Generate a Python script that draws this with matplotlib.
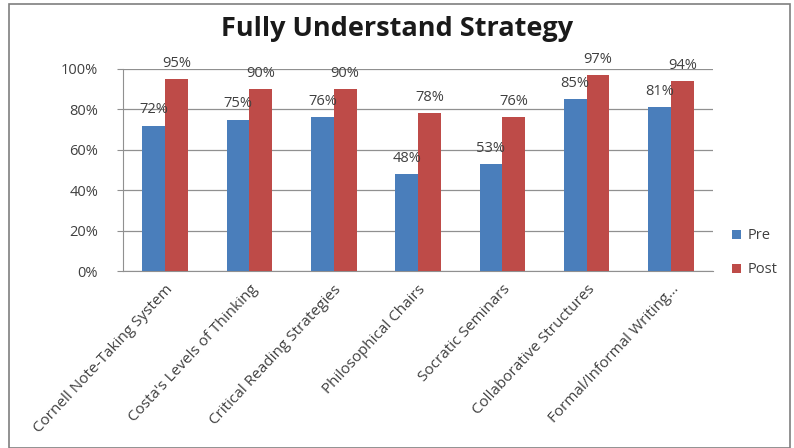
import matplotlib
matplotlib.use("Agg")
import matplotlib.pyplot as plt
from matplotlib.patches import Rectangle
import numpy as np

categories = ["Cornell Note-Taking System", "Costa's Levels of Thinking",
              "Critical Reading Strategies", "Philosophical Chairs",
              "Socratic Seminars", "Collaborative Structures",
              "Formal/Informal Writing..."]
pre = [72, 75, 76, 48, 53, 85, 81]
post = [95, 90, 90, 78, 76, 97, 94]
yticks = [0, 20, 40, 60, 80, 100]

blue = "#4a7ebb"
red = "#be4b48"
text_col = "#404040"

plt.rcParams["font.family"] = ["Open Sans", "DejaVu Sans"]

fig = plt.figure(figsize=(7.94, 4.48), dpi=100)
ax = fig.add_axes([0.155, 0.395, 0.743, 0.451])

x = np.arange(len(categories))
w = 0.27
b1 = ax.bar(x - w / 2, pre, w, color=blue, label="Pre", zorder=3)
b2 = ax.bar(x + w / 2, post, w, color=red, label="Post", zorder=3)

for bar, v in zip(b1, pre):
    ax.text(bar.get_x() + bar.get_width() / 2, v + 4, f"{v}%", ha="center",
            va="bottom", fontsize=10.5, color=text_col, zorder=4)
for bar, v in zip(b2, post):
    ax.text(bar.get_x() + bar.get_width() / 2, v + 4, f"{v}%", ha="center",
            va="bottom", fontsize=10.5, color=text_col, zorder=4)

ax.set_xlim(-0.5, len(categories) - 0.5)
ax.set_ylim(0, 100)
ax.set_yticks(yticks)
ax.set_yticklabels([f"{t}%" for t in yticks], fontsize=10.5, color=text_col)
ax.set_xticks(x)
ax.set_xticklabels(categories, rotation=47, ha="right", rotation_mode="anchor",
                   fontsize=11, color=text_col)
ax.tick_params(axis="x", length=0, pad=8)
ax.tick_params(axis="y", length=4, color="#909090", pad=14)
ax.grid(axis="y", color="#909090", linewidth=0.9, zorder=0)
for s in ["top", "right"]:
    ax.spines[s].set_visible(False)
ax.spines["left"].set_color("#909090")
ax.spines["bottom"].set_color("#909090")

fig.text(0.5, 0.935, "Fully Understand Strategy", ha="center", va="center",
         fontsize=19.5, fontweight="bold", color="#1a1a1a")

ax.legend(loc="center left", bbox_to_anchor=(1.01, 0.09), frameon=False,
          fontsize=10.5, handlelength=0.6, handleheight=0.6, labelspacing=1.3,
          handletextpad=0.5, labelcolor=text_col)

fig.patches.append(Rectangle((0.011, 0.0), 0.984, 0.99, transform=fig.transFigure,
                             fill=False, edgecolor="#7f7f7f", linewidth=1.2))

fig.savefig("out.png", dpi=100)
